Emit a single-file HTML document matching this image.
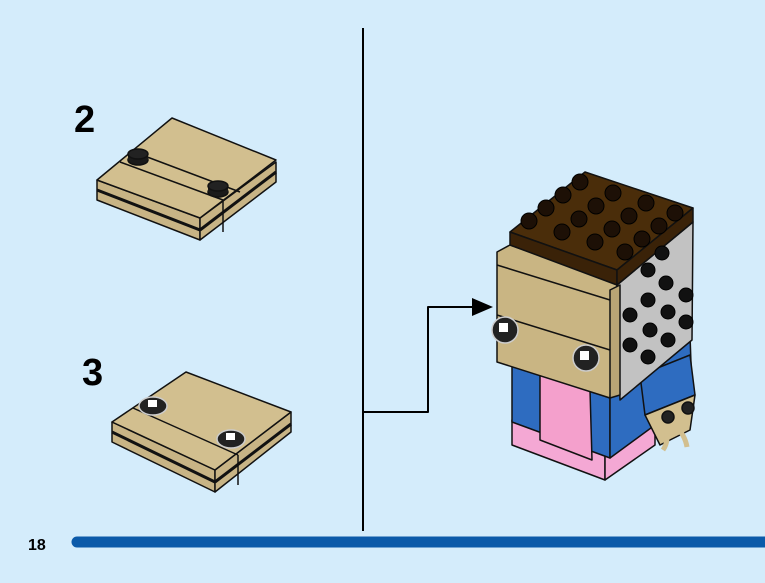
<!DOCTYPE html>
<html><head><style>
body{margin:0;width:765px;height:578px;overflow:hidden;background:#d4ecfb;font-family:"Liberation Sans",sans-serif}
</style></head><body>
<svg width="765" height="578" viewBox="0 0 765 578" xmlns="http://www.w3.org/2000/svg" stroke-linejoin="round">
<rect width="765" height="578" fill="#d4ecfb"/>
<text x="74" y="132" font-family="Liberation Sans" font-weight="bold" font-size="38">2</text>
<text x="82" y="385" font-family="Liberation Sans" font-weight="bold" font-size="38">3</text>
<text x="28" y="550" font-family="Liberation Sans" font-weight="bold" font-size="16">18</text>
<line x1="77" y1="542" x2="770" y2="542" stroke="#0b5aa9" stroke-width="11" stroke-linecap="round"/>
<line x1="363" y1="28" x2="363" y2="531" stroke="#000" stroke-width="2"/>
<polyline points="363,412 428,412 428,307 474,307" fill="none" stroke="#000" stroke-width="2"/>
<polygon points="472,298 493,307 472,316" fill="#000"/>

<!-- plate 2 -->
<g stroke="#111" stroke-width="1.5" fill="#c8b485">
<polygon points="97,180 200,218 200,240 97,200"/>
<polygon points="200,218 276,162 276,182 200,240"/>
<polygon points="97,180 172,118 276,160 200,218" fill="#d2bf8f"/>
<line x1="97" y1="190" x2="200" y2="230" stroke-width="3"/>
<line x1="200" y1="230" x2="276" y2="172" stroke-width="3"/>
<line x1="120" y1="162" x2="223" y2="200"/>
<line x1="134" y1="152" x2="240" y2="192"/>
<line x1="223" y1="200" x2="223" y2="232"/>
<ellipse cx="138" cy="160" rx="10" ry="5" fill="#1a1a1a"/><rect x="128" y="154" width="20" height="6" fill="#1a1a1a" stroke="none"/><ellipse cx="138" cy="154" rx="10" ry="5" fill="#222"/>
<ellipse cx="218" cy="192" rx="10" ry="5" fill="#1a1a1a"/><rect x="208" y="186" width="20" height="6" fill="#1a1a1a" stroke="none"/><ellipse cx="218" cy="186" rx="10" ry="5" fill="#222"/>
</g>

<!-- plate 3 -->
<g stroke="#111" stroke-width="1.5" fill="#c8b485">
<polygon points="112,422 215,470 215,492 112,442"/>
<polygon points="215,470 291,412 291,432 215,492"/>
<polygon points="112,422 186,372 291,412 215,470" fill="#d2bf8f"/>
<line x1="112" y1="432" x2="215" y2="482" stroke-width="3"/>
<line x1="215" y1="482" x2="291" y2="424" stroke-width="3"/>
<line x1="133" y1="408" x2="238" y2="455"/>
<line x1="238" y1="455" x2="238" y2="485"/>
<ellipse cx="153" cy="406" rx="14" ry="9" fill="#222" stroke="#ccc"/><rect x="148" y="400" width="9" height="7" fill="#fff" stroke="none"/>
<ellipse cx="231" cy="439" rx="14" ry="9" fill="#222" stroke="#ccc"/><rect x="226" y="433" width="9" height="7" fill="#fff" stroke="none"/>
</g>

<!-- figure -->
<g stroke="#111" stroke-width="1.5">
<!-- pink base -->
<polygon points="512,420 605,455 605,480 512,445" fill="#f4a8d4"/>
<polygon points="605,455 655,420 655,445 605,480" fill="#f4a8d4"/>
<!-- blue body -->
<polygon points="512,362 610,398 610,458 512,422" fill="#2e6cc0"/>
<polygon points="540,372 590,390 592,460 540,440" fill="#f4a0cc"/>
<polygon points="610,398 690,335 692,392 655,425 610,458" fill="#2e6cc0"/>
<!-- arm -->
<polygon points="640,375 690,355 695,395 645,415" fill="#2e6cc0"/>
<polygon points="645,415 695,395 690,430 660,445" fill="#d2bf8f"/>
<circle cx="688" cy="408" r="6" fill="#222"/><circle cx="668" cy="417" r="6" fill="#222"/>
<path d="M665 425 q5 15 -2 25 M675 425 q10 10 12 22" fill="none" stroke="#d2bf8f" stroke-width="5"/>
<!-- gray side -->
<polygon points="617,285 693,222 692,340 620,400" fill="#c2c2c2"/>
<!-- tan face -->
<polygon points="497,252 510,245 617,283 610,398 497,362" fill="#c9b583"/>
<polygon points="610,290 620,285 620,395 610,398" fill="#b9a575"/>
<line x1="497" y1="315" x2="610" y2="350"/>
<line x1="497" y1="265" x2="610" y2="300"/>
<!-- brown top -->
<polygon points="510,232 585,172 693,208 617,270" fill="#4a2d0a"/>
<polygon points="510,232 617,270 617,285 510,245" fill="#3a2208"/>
<polygon points="617,270 693,208 693,222 617,285" fill="#3a2208"/>
<circle cx="505" cy="330" r="13" fill="#222" stroke="#ccc"/><rect x="499" y="323" width="9" height="9" fill="#fff" stroke="none"/>
<circle cx="586" cy="358" r="13" fill="#222" stroke="#ccc"/><rect x="580" y="351" width="9" height="9" fill="#fff" stroke="none"/>
</g>
<g fill="#1d1006" stroke="#000">
<circle cx="580" cy="182" r="8"/><circle cx="613" cy="193" r="8"/><circle cx="646" cy="203" r="8"/><circle cx="675" cy="213" r="8"/>
<circle cx="563" cy="195" r="8"/><circle cx="596" cy="206" r="8"/><circle cx="629" cy="216" r="8"/><circle cx="659" cy="226" r="8"/>
<circle cx="546" cy="208" r="8"/><circle cx="579" cy="219" r="8"/><circle cx="612" cy="229" r="8"/><circle cx="642" cy="239" r="8"/>
<circle cx="529" cy="221" r="8"/><circle cx="562" cy="232" r="8"/><circle cx="595" cy="242" r="8"/><circle cx="625" cy="252" r="8"/>
</g>
<g fill="#111" stroke="#000">
<circle cx="662" cy="253" r="7"/><circle cx="648" cy="270" r="7"/><circle cx="666" cy="283" r="7"/><circle cx="686" cy="295" r="7"/>
<circle cx="648" cy="300" r="7"/><circle cx="668" cy="312" r="7"/><circle cx="686" cy="322" r="7"/><circle cx="630" cy="315" r="7"/>
<circle cx="630" cy="345" r="7"/><circle cx="650" cy="330" r="7"/><circle cx="668" cy="340" r="7"/><circle cx="648" cy="357" r="7"/>
</g>
</svg>
</body></html>
